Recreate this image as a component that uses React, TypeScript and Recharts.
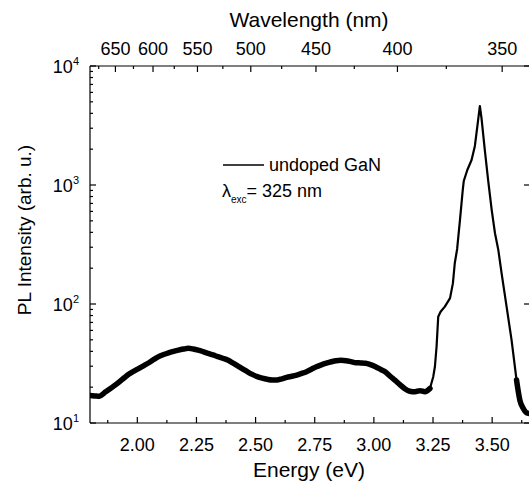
import React from 'react';
import { LineChart, Line, XAxis, YAxis } from 'recharts';

// PL spectrum of undoped GaN (energy in eV, intensity arb. u.)
const energy = [
  1.8, 1.82, 1.84, 1.86, 1.882, 1.903, 1.924, 1.945, 1.965, 1.986, 2.007, 2.028, 2.049, 2.07, 2.09,
  2.111, 2.132, 2.153, 2.174, 2.195, 2.215, 2.236, 2.257, 2.278, 2.299, 2.32, 2.34, 2.361, 2.382,
  2.403, 2.424, 2.445, 2.465, 2.486, 2.507, 2.528, 2.549, 2.57, 2.59, 2.611, 2.632, 2.653, 2.674,
  2.695, 2.715, 2.736, 2.757, 2.778, 2.799, 2.82, 2.84, 2.861, 2.882, 2.903, 2.924, 2.945, 2.965,
  2.986, 3.007, 3.028, 3.049, 3.07, 3.09, 3.11, 3.131, 3.152, 3.174, 3.195, 3.216, 3.237, 3.251,
  3.258, 3.265, 3.272, 3.282, 3.3, 3.322, 3.334, 3.342, 3.352, 3.364, 3.376, 3.38, 3.395, 3.413,
  3.427, 3.439, 3.448, 3.455, 3.469, 3.483, 3.498, 3.512, 3.526, 3.54, 3.561, 3.582, 3.603, 3.617,
  3.631, 3.645, 3.66,
];
const intensity = [
  17.0, 16.9, 16.8, 17.9, 19.2, 20.6, 22.2, 24.0, 25.8, 27.3, 28.8, 30.4, 32.1, 34.2, 36.1,
  37.6, 38.9, 40.0, 41.0, 41.8, 42.4, 41.9, 41.0, 39.8, 38.5, 37.3, 36.1, 35.0, 33.8,
  32.0, 30.2, 28.5, 27.0, 25.6, 24.5, 23.8, 23.3, 23.0, 23.0, 23.5, 24.2, 24.7, 25.3,
  26.1, 27.0, 28.3, 29.7, 30.8, 31.8, 32.7, 33.4, 33.6, 33.4, 32.8, 32.1, 32.0, 31.8,
  30.9, 29.7, 28.2, 26.8, 24.6, 22.8, 21.0, 19.4, 18.5, 18.3, 18.7, 18.3, 19.5, 24.5,
  29.7, 43.7, 78, 86, 95, 112, 149, 220, 290, 510, 920, 1080, 1336, 1622,
  2130, 3300, 4610, 3640, 1968, 1100, 617, 393, 285, 181, 95, 50, 23, 15.6,
  13.3, 12.2, 12.0,
];

const energyTicks = [1.875, 2.0, 2.125, 2.25, 2.375, 2.5, 2.625, 2.75, 2.875, 3.0, 3.125, 3.25, 3.375, 3.5, 3.625];
const energyLabels = [2.0, 2.25, 2.5, 2.75, 3.0, 3.25, 3.5];
const wavelengthLabels = [650, 600, 550, 500, 450, 400, 350];
const wavelengthMinor = [675, 625, 575, 525, 475, 425, 375];
const decades = [10, 100, 1000, 10000];
const minorCounts = [2, 3, 4, 5, 6, 7, 8, 9];

const HC = 1239.84;
const FONT = '"Liberation Sans", Arial, Helvetica, sans-serif';

// noisy parts of the trace are drawn thick, the band-edge peak thin
const isNoisy = (e: number) => e <= 3.237 || e >= 3.603;
const isPeak = (e: number) => e >= 3.216 && e <= 3.617;

const data = energy.map((e, i) => ({
  e,
  broad: isNoisy(e) ? intensity[i] : null,
  sharp: isPeak(e) ? intensity[i] : null,
}));

const topTicks = [...wavelengthLabels, ...wavelengthMinor].map((w) => HC / w).sort((a, b) => a - b);
const leftTicks = [
  ...decades,
  ...decades.slice(0, 3).flatMap((d) => minorCounts.map((m) => d * m)),
].sort((a, b) => a - b);

const near = (list: number[], v: number) => list.some((m) => Math.abs(m - v) < 1e-6);

const BottomTick = (props: any) => {
  const { x, y, payload } = props;
  const v = payload.value;
  const major = near(energyLabels, v);
  return (
    <g>
      <line x1={x} y1={y} x2={x} y2={y - (major ? 6 : 3)} stroke="#000" strokeWidth={1.2} />
      {major && (
        <text x={x} y={y + 28} textAnchor="middle" fontSize={18} fontFamily={FONT} fill="#000">
          {v.toFixed(2)}
        </text>
      )}
    </g>
  );
};

const TopTick = (props: any) => {
  const { x, y, payload } = props;
  const w = Math.round(HC / payload.value);
  const major = wavelengthLabels.includes(w);
  return (
    <g>
      <line x1={x} y1={y} x2={x} y2={y + (major ? 6 : 3)} stroke="#000" strokeWidth={1.2} />
      {major && (
        <text x={x} y={y - 11} textAnchor="middle" fontSize={18} fontFamily={FONT} fill="#000">
          {w}
        </text>
      )}
    </g>
  );
};

const LeftTick = (props: any) => {
  const { x, y, payload } = props;
  const v = payload.value;
  const major = decades.includes(v);
  return (
    <g>
      <line x1={x} y1={y} x2={x + (major ? 6 : 3)} y2={y} stroke="#000" strokeWidth={1.2} />
      {major && (
        <text x={x - 11} y={y + 6.5} textAnchor="end" fontSize={18} fontFamily={FONT} fill="#000">
          10
          <tspan dy={-8} fontSize={11}>
            {Math.round(Math.log10(v))}
          </tspan>
        </text>
      )}
    </g>
  );
};

const RightTick = (props: any) => {
  const { x, y } = props;
  return <line x1={x} y1={y} x2={x - 6} y2={y} stroke="#000" strokeWidth={1.2} />;
};

const axisLine = { stroke: '#000', strokeWidth: 1.2 };

export default function App() {
  return (
    <div
      style={{
        position: 'fixed',
        left: 0,
        top: 0,
        width: 529,
        height: 483,
        overflow: 'hidden',
        background: '#fff',
      }}
    >
      <LineChart width={542} height={483} data={data} margin={{ top: 0, right: 0, bottom: 0, left: 0 }}>
        <XAxis
          xAxisId="bottom"
          dataKey="e"
          type="number"
          domain={[1.8, 3.66]}
          allowDataOverflow
          ticks={energyTicks}
          interval={0}
          height={60}
          tickSize={0}
          tickMargin={0}
          tickLine={false}
          axisLine={axisLine}
          tick={BottomTick}
        />
        <XAxis
          xAxisId="top"
          orientation="top"
          dataKey="e"
          type="number"
          domain={[1.8, 3.66]}
          allowDataOverflow
          ticks={topTicks}
          interval={0}
          height={66}
          tickSize={0}
          tickMargin={0}
          tickLine={false}
          axisLine={axisLine}
          tick={TopTick}
        />
        <YAxis
          yAxisId="left"
          type="number"
          scale="log"
          domain={[10, 10000]}
          allowDataOverflow
          ticks={leftTicks}
          interval={0}
          width={90}
          tickSize={0}
          tickMargin={0}
          tickLine={false}
          axisLine={axisLine}
          tick={LeftTick}
        />
        <YAxis
          yAxisId="right"
          orientation="right"
          type="number"
          scale="log"
          domain={[10, 10000]}
          allowDataOverflow
          ticks={decades}
          interval={0}
          width={12}
          tickSize={0}
          tickMargin={0}
          tickLine={false}
          axisLine={axisLine}
          tick={RightTick}
        />
        <Line
          xAxisId="bottom"
          yAxisId="left"
          type="linear"
          dataKey="sharp"
          name="undoped GaN"
          stroke="#000"
          strokeWidth={2.2}
          strokeLinejoin="round"
          dot={false}
          activeDot={false}
          isAnimationActive={false}
        />
        <Line
          xAxisId="bottom"
          yAxisId="left"
          type="monotone"
          dataKey="broad"
          name="undoped GaN"
          stroke="#000"
          strokeWidth={5.5}
          strokeLinejoin="round"
          strokeLinecap="round"
          dot={false}
          activeDot={false}
          isAnimationActive={false}
        />
      </LineChart>
      <svg
        width={529}
        height={483}
        style={{ position: 'absolute', left: 0, top: 0, pointerEvents: 'none' }}
        fontFamily={FONT}
      >
        <text x={309} y={27} textAnchor="middle" fontSize={21} fill="#000">
          Wavelength (nm)
        </text>
        <text x={309} y={477} textAnchor="middle" fontSize={21} fill="#000">
          Energy (eV)
        </text>
        <text
          x={31}
          y={230}
          textAnchor="middle"
          fontSize={19}
          fill="#000"
          transform="rotate(-90 31 230)"
        >
          PL Intensity (arb. u.)
        </text>
        <line x1={223} y1={165} x2={264} y2={165} stroke="#000" strokeWidth={1.5} />
        <text x={269} y={171} fontSize={18} fill="#000">
          undoped GaN
        </text>
        <text x={222} y={197} fontSize={18} fill="#000">
          λ
          <tspan dy={6} fontSize={10}>
            exc
          </tspan>
          <tspan dy={-6}>= 325 nm</tspan>
        </text>
      </svg>
    </div>
  );
}
